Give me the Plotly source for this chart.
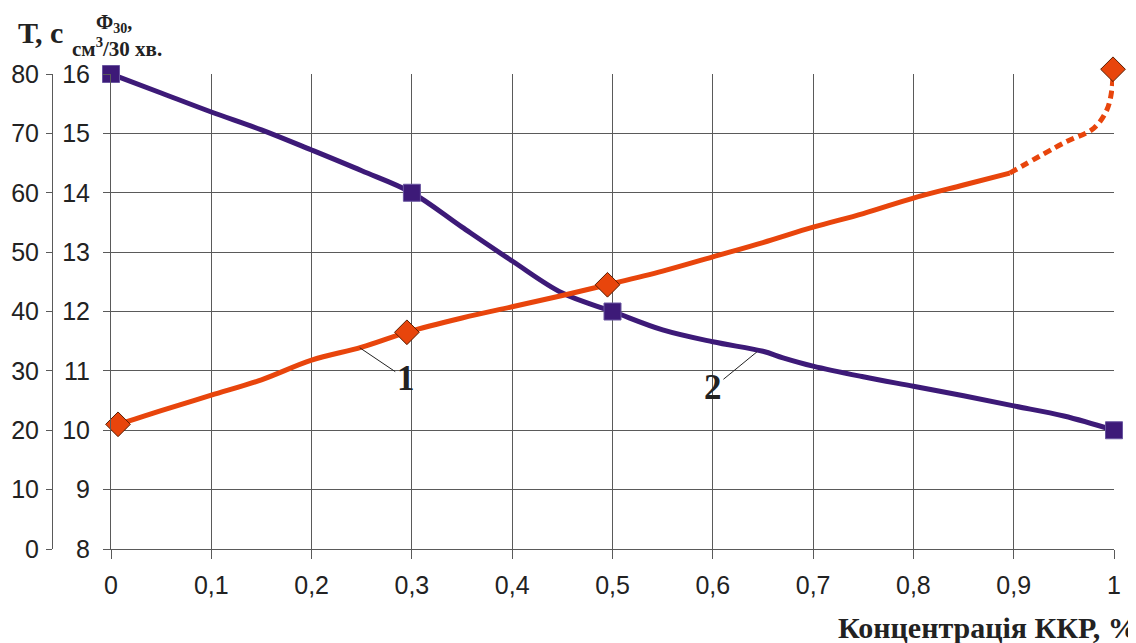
import plotly.graph_objects as go

# curve 1: T, s (left outer axis 0..80)
T_X = [-0.006, 0.007, 0.05, 0.1, 0.15, 0.2, 0.25, 0.295, 0.35, 0.4, 0.45, 0.495,
       0.55, 0.6, 0.65, 0.7, 0.75, 0.8, 0.85, 0.896]
T_Y = [20.6, 21.0, 23.3, 25.9, 28.5, 31.8, 34.0, 36.5, 38.9, 40.8, 42.7, 44.5,
       46.8, 49.2, 51.6, 54.2, 56.5, 59.1, 61.3, 63.3]
T_DASH_X = [0.896, 0.95, 0.98, 0.993, 0.998, 0.999]
T_DASH_Y = [63.3, 68.4, 70.9, 74.0, 77.5, 80.8]
T_MARK_X = [0.007, 0.295, 0.495]
T_MARK_Y = [21.0, 36.5, 44.5]
T_LAST_X = [0.999]
T_LAST_Y = [80.8]

# curve 2: Ф30, cm3/30 min (inner axis 8..16)
F_X = [0, 0.05, 0.1, 0.15, 0.2, 0.25, 0.3, 0.35, 0.4, 0.45, 0.5, 0.55, 0.6,
       0.65, 0.67, 0.7, 0.75, 0.8, 0.85, 0.9, 0.95, 1.0]
F_Y = [16.0, 15.68, 15.36, 15.06, 14.72, 14.37, 14.0, 13.42, 12.85, 12.31, 12.0,
       11.69, 11.49, 11.33, 11.22, 11.08, 10.9, 10.74, 10.58, 10.41, 10.24, 10.0]
F_MARK_X = [0, 0.3, 0.5, 1.0]
F_MARK_Y = [16.0, 14.0, 12.0, 10.0]

W, H = 1136, 643
OFF = 8                                   # page body margin
X0_PX, X1_PX = 111 - OFF, 1114 - OFF      # plot area left/right
Y_TOP_PX, Y_BOT_PX = 74 - OFF, 549 - OFF  # plot area top/bottom
EXTRA_TOP_PX = 16                         # headroom for the last point above 80

ORANGE = "#E8450C"
PURPLE = "#3D1A78"
GRID = "#5a5a5a"
TICK_FONT = dict(family="Liberation Sans, Arial", size=25, color="#222")
SERIF = "Liberation Serif, Times New Roman, serif"

dom_x = [X0_PX / W, X1_PX / W]
dom_lo = (H - Y_BOT_PX) / H
dom_hi = (H - Y_TOP_PX) / H
dom_hi_extra = (H - Y_TOP_PX + EXTRA_TOP_PX) / H
t_top_extra = 80 * (dom_hi_extra - dom_lo) / (dom_hi - dom_lo)

fig = go.Figure()
fig.add_trace(go.Scatter(x=T_X, y=T_Y, yaxis="y2", mode="lines",
                         line=dict(color=ORANGE, width=5, shape="spline"), cliponaxis=False))
fig.add_trace(go.Scatter(x=T_DASH_X, y=T_DASH_Y, xaxis="x2", yaxis="y3", mode="lines",
                         line=dict(color=ORANGE, width=5, shape="spline", dash="8px,5px")))
fig.add_trace(go.Scatter(x=T_MARK_X, y=T_MARK_Y, yaxis="y2", mode="markers",
                         marker=dict(symbol="diamond", size=19, color=ORANGE,
                                     line=dict(color="#5a1d00", width=1)), cliponaxis=False))
fig.add_trace(go.Scatter(x=T_LAST_X, y=T_LAST_Y, xaxis="x2", yaxis="y3", mode="markers",
                         marker=dict(symbol="diamond", size=19, color=ORANGE,
                                     line=dict(color="#5a1d00", width=1)), cliponaxis=False))
fig.add_trace(go.Scatter(x=F_X, y=F_Y, yaxis="y", mode="lines",
                         line=dict(color=PURPLE, width=5, shape="spline"), cliponaxis=False))
fig.add_trace(go.Scatter(x=F_MARK_X, y=F_MARK_Y, yaxis="y", mode="markers",
                         marker=dict(symbol="square", size=17, color=PURPLE,
                                     line=dict(color="#6a56a0", width=1)), cliponaxis=False))

fig.update_layout(
    width=W, height=H,
    margin=dict(l=0, r=0, t=0, b=0, autoexpand=False),
    paper_bgcolor="white", plot_bgcolor="rgba(0,0,0,0)",
    showlegend=False,
    separators=", ",
    xaxis=dict(domain=dom_x, range=[0, 1], dtick=0.1, tick0=0,
               showgrid=True, gridcolor=GRID, gridwidth=1, zeroline=False,
               showline=True, linecolor=GRID, ticks="outside", ticklen=9, tickcolor=GRID,
               tickfont=TICK_FONT, anchor="y", ticklabelstandoff=5, automargin=False),
    yaxis=dict(domain=[dom_lo, dom_hi], range=[8, 16], dtick=1,
               showgrid=True, gridcolor=GRID, gridwidth=1, zeroline=False,
               showline=True, linecolor=GRID, ticks="outside", ticklen=7, tickcolor=GRID,
               tickfont=TICK_FONT, ticklabelstandoff=8, automargin=False),
    yaxis2=dict(overlaying="y", anchor="free", position=(52 - OFF) / W, side="left",
                range=[0, 80], dtick=10, showgrid=False, zeroline=False,
                showline=True, linecolor=GRID, ticks="outside", ticklen=6, tickcolor=GRID,
                tickfont=TICK_FONT, ticklabelstandoff=2, automargin=False),
    # hidden helper axes: same scale as T, a bit taller, so the last point above 80 is drawn
    xaxis2=dict(domain=dom_x, range=[0, 1], anchor="y3", visible=False,
                showgrid=False, zeroline=False, automargin=False),
    yaxis3=dict(domain=[dom_lo, dom_hi_extra], range=[0, t_top_extra], anchor="x2",
                visible=False, showgrid=False, zeroline=False, automargin=False),
)

# curve labels with leader lines
fig.add_annotation(x=0.248, y=33.9, xref="x", yref="y2", text="<b>1</b>",
                   showarrow=True, arrowhead=0, arrowwidth=1, arrowcolor="#222",
                   ax=46, ay=31, font=dict(family=SERIF, size=35, color="#222"))
fig.add_annotation(x=0.644, y=11.32, xref="x", yref="y", text="<b>2</b>",
                   showarrow=True, arrowhead=0, arrowwidth=1, arrowcolor="#222",
                   ax=-44, ay=36, font=dict(family=SERIF, size=35, color="#222"))

# axis titles
fig.add_annotation(x=(16 - OFF) / W, y=1 - (32 - OFF) / H, xref="paper", yref="paper",
                   text="<b>Т, с</b>", showarrow=False, xanchor="left", yanchor="middle",
                   font=dict(family=SERIF, size=30, color="#222"))
fig.add_annotation(x=(114 - OFF) / W, y=1 - 1 / H, xref="paper", yref="paper",
                   text="<b>Ф<sub>30</sub>,</b>", showarrow=False, xanchor="center", yanchor="top",
                   font=dict(family=SERIF, size=20, color="#222"))
fig.add_annotation(x=(70 - OFF) / W, y=1 - (48 - OFF) / H, xref="paper", yref="paper",
                   text="<b>см<sup>3</sup>/30 хв.</b>", showarrow=False, xanchor="left", yanchor="middle",
                   font=dict(family=SERIF, size=21, color="#222"))
fig.add_annotation(x=(836 - OFF) / W, y=1 - (627 - OFF) / H, xref="paper", yref="paper",
                   text="<b>Концентрація ККР, %</b>", showarrow=False, xanchor="left", yanchor="middle",
                   font=dict(family=SERIF, size=30, color="#222"))

fig.write_html("out.html")
